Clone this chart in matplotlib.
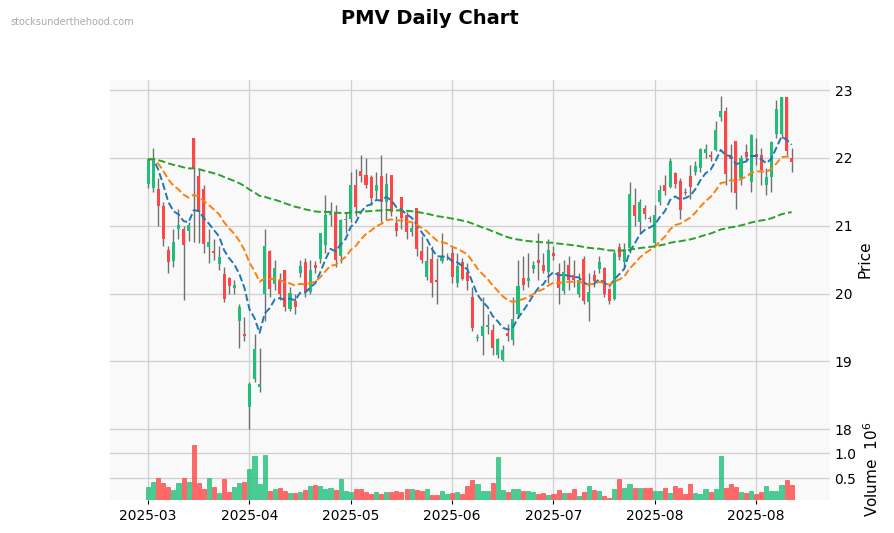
import matplotlib
matplotlib.use("Agg")
import matplotlib.pyplot as plt
import numpy as np
import pandas as pd

opens = [21.61,21.55,21.54,21.29,20.64,20.48,20.95,20.95,20.93,22.29,21.73,21.54,20.69,20.63,20.43,20.29,20.22,20.08,19.59,19.40,
         18.33,18.74,18.62,20.00,20.62,20.14,20.20,20.34,19.78,19.88,20.30,20.46,20.03,20.42,20.51,20.71,21.16,21.20,20.55,21.09,
         21.10,21.60,21.81,21.74,21.71,21.52,21.73,21.35,21.74,21.04,21.42,21.16,20.91,21.25,20.62,20.25,20.51,20.20,20.48,20.54,
         20.60,20.15,20.46,20.32,19.95,19.35,19.38,19.51,19.46,19.10,19.02,19.41,19.32,19.70,20.22,20.19,20.36,20.49,20.41,20.32,
         20.60,20.31,20.04,20.42,20.27,20.00,20.51,19.87,20.27,20.36,20.38,20.06,19.92,20.68,20.47,20.67,21.30,21.06,21.26,21.11,
         20.75,21.35,21.59,21.57,21.78,21.66,21.49,21.73,21.79,21.85,22.07,22.04,22.12,22.60,22.69,22.02,22.25,21.70,22.09,21.65,
         22.06,22.04,21.60,21.72,22.36,22.36,22.89,21.99]
closes = [21.98,22.00,21.29,20.80,20.47,20.75,21.00,20.72,21.00,21.84,21.20,20.73,20.75,20.60,20.53,19.92,20.11,20.12,19.80,19.37,
          18.66,19.18,18.66,20.70,20.07,20.37,20.00,19.81,20.00,19.81,20.40,20.03,20.35,20.38,20.89,21.16,21.20,20.50,21.08,21.10,
          21.60,21.28,21.73,21.60,21.41,21.60,21.35,21.61,21.20,20.92,21.12,20.91,20.96,20.66,20.50,20.47,20.15,20.17,20.53,20.54,
          20.25,20.40,20.22,20.19,19.49,19.35,19.52,19.53,19.20,19.32,19.17,19.37,19.62,20.11,20.12,20.23,20.41,20.45,20.34,20.64,
          20.56,20.09,20.32,20.20,20.20,20.20,19.89,20.02,20.19,20.46,19.99,19.89,20.60,20.54,20.66,21.47,21.15,21.35,21.18,21.10,
          21.16,21.53,21.52,21.95,21.62,21.23,21.48,21.57,21.88,22.13,22.13,22.01,22.41,22.69,21.76,21.99,21.49,22.00,22.01,22.33,
          22.01,21.82,21.71,22.23,22.72,22.89,22.10,21.94]
highs = [21.99,22.15,21.70,21.35,20.70,20.95,21.25,21.00,21.05,22.29,21.84,21.60,20.95,20.80,20.70,20.40,20.25,20.20,19.85,19.65,
         18.70,19.40,19.20,20.95,20.65,20.50,20.30,20.35,20.10,20.00,20.50,20.52,20.50,20.48,20.90,21.45,21.35,21.30,21.10,21.20,
         21.80,21.84,22.05,22.00,21.75,21.80,22.05,21.78,21.74,21.15,21.42,21.20,21.05,21.25,20.85,20.70,20.70,20.52,20.90,20.60,
         20.70,20.60,20.52,20.45,20.10,19.40,19.95,19.70,19.55,19.35,19.25,19.55,19.95,20.50,20.55,20.60,20.48,20.90,20.60,20.80,
         20.70,20.45,20.50,20.55,20.50,20.30,20.55,20.30,20.35,20.55,20.40,20.08,20.65,20.75,20.75,21.65,21.55,21.40,21.30,21.15,
         21.30,21.60,21.75,22.00,21.80,21.70,21.55,21.90,21.95,22.15,22.20,22.10,22.55,22.91,22.75,22.20,22.25,22.05,22.20,22.35,
         22.30,22.15,21.85,22.25,22.85,22.90,22.90,22.15]
lows = [21.55,21.50,21.00,20.70,20.30,20.40,20.80,19.90,20.78,20.76,20.75,20.60,20.45,20.50,20.35,19.88,20.00,20.00,19.20,19.30,
        18.00,18.70,18.55,19.60,19.95,20.05,19.90,19.75,19.75,19.70,20.25,19.95,20.00,20.30,20.45,20.60,21.00,20.40,20.45,20.90,
        21.05,21.15,21.65,21.55,21.30,21.40,21.05,21.10,21.15,20.85,20.95,20.80,20.85,20.55,20.45,20.20,19.95,19.85,20.45,20.50,
        20.15,20.10,20.20,20.05,19.45,19.30,19.10,19.40,19.10,19.05,19.00,19.30,19.25,19.65,20.05,20.10,20.30,20.20,20.30,20.15,
        20.50,19.85,20.00,20.05,20.10,19.95,19.85,19.60,20.10,20.30,19.95,19.85,19.90,20.50,20.40,20.60,21.00,20.90,21.10,21.05,
        20.70,21.30,21.45,21.55,21.55,21.10,21.45,21.40,21.75,21.80,22.00,21.95,22.10,22.55,21.60,21.50,21.25,21.60,21.95,21.50,
        21.90,21.60,21.45,21.50,22.30,22.30,22.05,21.80]
volumes = [0.31,0.43,0.51,0.41,0.31,0.26,0.41,0.51,0.43,1.16,0.39,0.27,0.51,0.31,0.19,0.49,0.21,0.31,0.39,0.43,
           0.68,0.94,0.37,0.97,0.23,0.28,0.30,0.23,0.19,0.19,0.21,0.26,0.34,0.36,0.34,0.27,0.30,0.26,0.48,0.23,
           0.21,0.28,0.28,0.21,0.17,0.21,0.17,0.21,0.21,0.23,0.21,0.27,0.27,0.26,0.23,0.27,0.16,0.16,0.23,0.17,
           0.20,0.22,
           0.17,0.34,0.46,0.38,0.24,0.24,0.39,0.92,0.26,0.21,0.28,0.28,0.24,0.24,0.21,0.17,0.19,0.16,0.17,0.26,
           0.19,0.19,0.28,0.14,0.21,0.34,0.26,0.24,0.14,0.09,0.28,0.48,0.30,0.38,0.30,0.30,0.30,0.30,0.24,0.24,
           0.30,0.19,0.34,0.30,0.17,0.38,0.19,0.17,0.28,0.21,0.28,0.94,0.30,0.38,0.32,0.21,0.19,0.24,0.17,0.21,
           0.34,0.24,0.24,0.36,0.46,0.36]
tick_pos = [0, 20, 40, 60, 80, 100, 120]
tick_labels = ["2025-03", "2025-04", "2025-05", "2025-06", "2025-07", "2025-08", "2025-08"]

n = len(closes)
x = np.arange(n)
o = np.array(opens); c = np.array(closes); h = np.array(highs); l = np.array(lows)
up = c >= o
GREEN, RED = "#1fbf7a", "#ff4545"
cols = np.where(up, GREEN, RED)

fig = plt.figure(figsize=(8.95, 5.33), dpi=100)
ax = fig.add_axes([0.123, 0.178, 0.804, 0.672])
axv = fig.add_axes([0.123, 0.062, 0.804, 0.116], sharex=ax)
for a in (ax, axv):
    a.set_facecolor("#f9f9f9")
    a.grid(True, color="#d0d0d0", linewidth=0.9)
    a.set_axisbelow(True)
    for s in a.spines.values():
        s.set_visible(False)
    a.yaxis.tick_right()
    a.yaxis.set_label_position("right")
    a.tick_params(length=0, labelsize=10)

ax.vlines(x, l, h, color="#707070", linewidth=1, zorder=2)
ax.bar(x, np.abs(c - o) + 0.005, bottom=np.minimum(o, c), width=0.6, color=cols, zorder=3)

cs = pd.Series(c)
ax.plot(x, cs.ewm(span=8, adjust=False).mean(), "--", color="#1f77b4", lw=1.4, zorder=4)
ax.plot(x, cs.ewm(span=20, adjust=False).mean(), "--", color="#ff7f0e", lw=1.4, zorder=4)
ax.plot(x, cs.ewm(span=110, adjust=False).mean(), "--", color="#2ca02c", lw=1.4, zorder=4)
ax.set_ylim(17.87, 23.15)
ax.set_yticks([18, 19, 20, 21, 22, 23])
ax.set_ylabel("Price", fontsize=11)
plt.setp(ax.get_xticklabels(), visible=False)

axv.bar(x, volumes, width=0.8, color=cols, alpha=0.8, edgecolor=cols, linewidth=0.6)
axv.set_ylim(0.06, 1.3)
axv.set_yticks([0.5, 1.0])
axv.set_ylabel("Volume  $10^6$", fontsize=11)
axv.set_xlim(-7.5, 134.5)
axv.set_xticks(tick_pos)
axv.set_xticklabels(tick_labels)
axv.tick_params(axis="x", length=3, labelsize=10)

fig.text(0.48, 0.965, "PMV Daily Chart", ha="center", va="center", fontsize=14, fontweight="bold")
fig.text(0.012, 0.958, "stocksunderthehood.com", ha="left", va="center", fontsize=7, color="#aaaaaa")
fig.savefig("out.png", dpi=100)
